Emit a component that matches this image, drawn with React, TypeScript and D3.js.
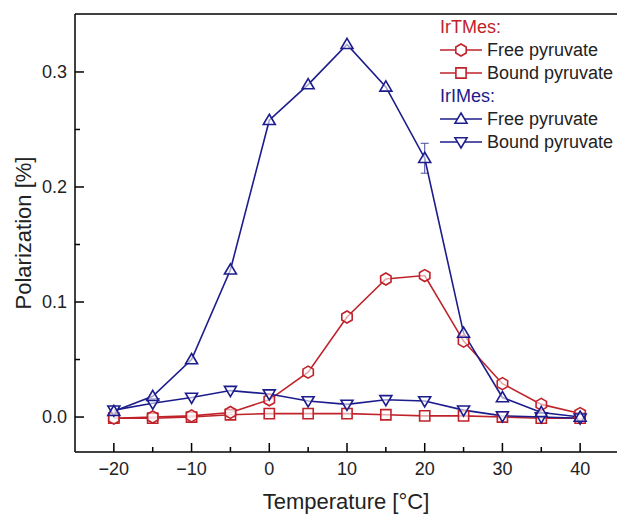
import React from "react";
import * as d3 from "d3";

const temperatures = [-20, -15, -10, -5, 0, 5, 10, 15, 20, 25, 30, 35, 40];
const irtFree = [-0.001, 0.0, 0.001, 0.004, 0.015, 0.039, 0.087, 0.12, 0.123, 0.066, 0.029, 0.011, 0.003];
const irtBound = [-0.001, -0.001, 0.0, 0.002, 0.003, 0.003, 0.003, 0.002, 0.001, 0.001, 0.0, -0.001, -0.001];
const iriFree = [0.005, 0.018, 0.05, 0.128, 0.258, 0.289, 0.324, 0.287, 0.225, 0.073, 0.017, 0.004, 0.0];
const iriFreeErr = [0, 0, 0, 0, 0, 0, 0, 0, 0.013, 0, 0, 0, 0];
const iriBound = [0.006, 0.012, 0.017, 0.023, 0.02, 0.014, 0.011, 0.015, 0.014, 0.006, 0.001, 0.0, -0.001];
const xTicks = [-20, -10, 0, 10, 20, 30, 40];
const yTicks = [0.0, 0.1, 0.2, 0.3];

const RED = "#c0222a";
const BLUE = "#1c1c8c";
const FONT = "Arial, 'Liberation Sans', sans-serif";

type Shape = "hex" | "square" | "up" | "down";

function markerPath(shape: Shape, r: number): string {
  if (shape === "hex") {
    const pts = d3.range(6).map((i) => {
      const a = (Math.PI / 3) * i + Math.PI / 6;
      return [r * Math.cos(a), r * Math.sin(a)];
    });
    return "M" + pts.map((p) => p.join(",")).join("L") + "Z";
  }
  if (shape === "square") {
    const s = r * 0.85;
    return `M${-s},${-s}L${s},${-s}L${s},${s}L${-s},${s}Z`;
  }
  if (shape === "up") {
    return `M0,${-r}L${r * 1.0},${r * 0.7}L${-r * 1.0},${r * 0.7}Z`;
  }
  return `M0,${r}L${r * 1.0},${-r * 0.7}L${-r * 1.0},${-r * 0.7}Z`;
}

export default function App() {
  const W = 617;
  const H = 514;
  const left = 75;
  const right = 619;
  const top = 14;
  const bottom = 452;

  const x = d3.scaleLinear().domain([-25, 45]).range([left, right]);
  const y = d3.scaleLinear().domain([-0.0304, 0.3504]).range([bottom, top]);

  const line = d3
    .line<[number, number]>()
    .x((d) => x(d[0]))
    .y((d) => y(d[1]));

  const series: { vals: number[]; color: string; shape: Shape; err?: number[] }[] = [
    { vals: irtBound, color: RED, shape: "square" },
    { vals: irtFree, color: RED, shape: "hex" },
    { vals: iriBound, color: BLUE, shape: "down" },
    { vals: iriFree, color: BLUE, shape: "up", err: iriFreeErr },
  ];

  const xMinor = d3.range(-25, 46, 5).filter((v) => v % 10 !== 0 && v > -25 && v < 45);
  const yMinor = [0.05, 0.15, 0.25];

  const legendItems: { label: string; color: string; shape?: Shape; header?: boolean }[] = [
    { label: "IrTMes:", color: RED, header: true },
    { label: "Free pyruvate", color: RED, shape: "hex" },
    { label: "Bound pyruvate", color: RED, shape: "square" },
    { label: "IrIMes:", color: BLUE, header: true },
    { label: "Free pyruvate", color: BLUE, shape: "up" },
    { label: "Bound pyruvate", color: BLUE, shape: "down" },
  ];

  return (
    <svg width={W} height={H} style={{ position: "absolute", left: 0, top: 0, background: "#fff" }}>
      <rect x={0} y={0} width={W} height={H} fill="#fff" />
      {/* frame */}
      <line x1={left} x2={W} y1={top} y2={top} stroke="#000" strokeWidth={1.5} />
      <line x1={left} x2={left} y1={top} y2={bottom} stroke="#000" strokeWidth={1.5} />
      <line x1={left} x2={W} y1={bottom} y2={bottom} stroke="#000" strokeWidth={1.5} />

      {/* x ticks */}
      {xTicks.map((t) => (
        <g key={"xt" + t}>
          <line x1={x(t)} x2={x(t)} y1={bottom} y2={bottom - 9} stroke="#000" strokeWidth={1.5} />
          <text x={x(t)} y={475} textAnchor="middle" fontFamily={FONT} fontSize={18} fill="#222">
            {t < 0 ? "\u2212" + Math.abs(t) : String(t)}
          </text>
        </g>
      ))}
      {xMinor.map((t) => (
        <line key={"xm" + t} x1={x(t)} x2={x(t)} y1={bottom} y2={bottom - 5} stroke="#000" strokeWidth={1.5} />
      ))}
      {/* y ticks */}
      {yTicks.map((t) => (
        <g key={"yt" + t}>
          <line x1={left} x2={left + 9} y1={y(t)} y2={y(t)} stroke="#000" strokeWidth={1.5} />
          <text x={left - 8} y={y(t) + 6} textAnchor="end" fontFamily={FONT} fontSize={18} fill="#222">
            {t.toFixed(1)}
          </text>
        </g>
      ))}
      {yMinor.map((t) => (
        <line key={"ym" + t} x1={left} x2={left + 5} y1={y(t)} y2={y(t)} stroke="#000" strokeWidth={1.5} />
      ))}

      {/* axis titles */}
      <text x={346} y={509} textAnchor="middle" fontFamily={FONT} fontSize={22} fill="#222">
        Temperature [°C]
      </text>
      <text
        transform={`translate(31,${(top + bottom) / 2}) rotate(-90)`}
        textAnchor="middle"
        fontFamily={FONT}
        fontSize={22}
        fill="#222"
      >
        Polarization [%]
      </text>

      {/* series lines */}
      {series.map((s, i) => (
        <path
          key={"l" + i}
          d={line(temperatures.map((t, j) => [t, s.vals[j]] as [number, number])) || ""}
          fill="none"
          stroke={s.color}
          strokeWidth={1.6}
        />
      ))}
      {/* error bars */}
      {series.map((s, i) =>
        s.err
          ? temperatures.map((t, j) =>
              s.err![j] > 0 ? (
                <g key={"e" + i + "-" + j} stroke={s.color} strokeWidth={1} opacity={0.8}>
                  <line x1={x(t)} x2={x(t)} y1={y(s.vals[j] - s.err![j])} y2={y(s.vals[j] + s.err![j])} />
                  <line x1={x(t) - 4} x2={x(t) + 4} y1={y(s.vals[j] - s.err![j])} y2={y(s.vals[j] - s.err![j])} />
                  <line x1={x(t) - 4} x2={x(t) + 4} y1={y(s.vals[j] + s.err![j])} y2={y(s.vals[j] + s.err![j])} />
                </g>
              ) : null
            )
          : null
      )}
      {/* markers */}
      {series.map((s, i) =>
        temperatures.map((t, j) => (
          <path
            key={"m" + i + "-" + j}
            d={markerPath(s.shape, 6)}
            transform={`translate(${x(t)},${y(s.vals[j])})`}
            fill="#fff"
            fillOpacity={0.6}
            stroke={s.color}
            strokeWidth={1.6}
          />
        ))
      )}

      {/* legend */}
      {legendItems.map((it, i) => {
        const yy = 27 + i * 23;
        if (it.header) {
          return (
            <text key={"lg" + i} x={440} y={yy + 6} fontFamily={FONT} fontSize={18} fill={it.color}>
              {it.label}
            </text>
          );
        }
        return (
          <g key={"lg" + i}>
            <line x1={440} x2={482} y1={yy} y2={yy} stroke={it.color} strokeWidth={1.6} />
            <path d={markerPath(it.shape!, 6)} transform={`translate(461,${yy})`} fill="#fff" stroke={it.color} strokeWidth={1.6} />
            <text x={487} y={yy + 6} fontFamily={FONT} fontSize={18} fill="#222">
              {it.label}
            </text>
          </g>
        );
      })}
    </svg>
  );
}
